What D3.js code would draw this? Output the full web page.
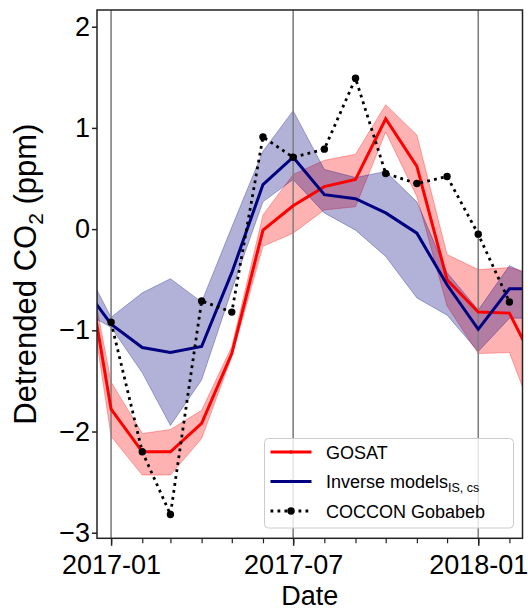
<!DOCTYPE html>
<html>
<head>
<meta charset="utf-8">
<script src="https://cdn.jsdelivr.net/npm/d3@7"></script>
<style>
body { margin: 0; background: #fff; }
text { font-family: "Liberation Sans", Arial, sans-serif; fill: #000; }
</style>
</head>
<body>
<div id="chart"></div>
<script>
"use strict";

// Monthly series (first day of month)
var months = ["2016-12","2017-01","2017-02","2017-03","2017-04","2017-05","2017-06","2017-07",
              "2017-08","2017-09","2017-10","2017-11","2017-12","2018-01","2018-02","2018-03"];

var gosat   = [0.05, -1.78, -2.20, -2.20, -1.92, -1.23, -0.01, 0.23, 0.42, 0.49, 1.09, 0.62, -0.50, -0.82, -0.83, -1.38];
var gosatHi = [0.10, -1.51, -2.02, -1.98, -1.79, -1.16,  0.14, 0.54, 0.68, 0.74, 1.23, 0.93, -0.25, -0.40, -0.38, -0.45];
var gosatLo = [0.00, -2.05, -2.43, -2.43, -2.07, -1.26, -0.17, -0.04, 0.19, 0.22, 0.96, 0.32, -0.76, -1.23, -1.22, -1.95];

var model   = [-0.52, -0.94, -1.17, -1.22, -1.16, -0.43, 0.44, 0.71, 0.34, 0.30, 0.16, -0.04, -0.55, -0.99, -0.59, -0.59];
var modelHi = [-0.28, -0.87, -0.63, -0.49, -0.72,  0.02, 0.77, 1.17, 0.59, 0.51, 0.57,  0.27, -0.43, -0.80, -0.36, -0.50];
var modelLo = [-0.80, -0.97, -1.42, -1.94, -1.49, -0.60, 0.27, 0.49, 0.16, -0.01, -0.27, -0.68, -0.85, -1.21, -0.88, -0.88];

var cocconMonths = ["2017-01","2017-02","2017-03","2017-04","2017-05","2017-06","2017-07",
                    "2017-08","2017-09","2017-10","2017-11","2017-12","2018-01","2018-02"];
var coccon = [-0.92, -2.20, -2.82, -0.71, -0.82, 0.91, 0.71, 0.79, 1.49, 0.55, 0.45, 0.52, -0.05, -0.72];

var yTicks = [-3, -2, -1, 0, 1, 2];
var xMajorTicks = ["2017-01", "2017-07", "2018-01"];
var xLimits = ["2016-12-18", "2018-02-14"];
var yLimits = [-3.055, 2.165];

var legendLabels = ["GOSAT", "Inverse models", "COCCON Gobabeb"];

// Dimensions
var larg = 528, haut = 610;
var gauche = 97, droite = 522.5, haut0 = 10, bas = 538.3;

var parseMonth = d3.utcParse("%Y-%m");
var parseDay = d3.utcParse("%Y-%m-%d");

var x = d3.scaleUtc()
	.domain(xLimits.map(parseDay))
	.range([gauche, droite]);
var y = d3.scaleLinear()
	.domain(yLimits)
	.range([bas, haut0]);

var serie = months.map(function(m, i){
	return {date: parseMonth(m), g: gosat[i], gHi: gosatHi[i], gLo: gosatLo[i],
	        m: model[i], mHi: modelHi[i], mLo: modelLo[i]};
});
var points = cocconMonths.map(function(m, i){
	return {date: parseMonth(m), v: coccon[i]};
});

var svg = d3.select("#chart")
	.append("svg")
	.attr("width", larg)
	.attr("height", haut)
	.attr("viewBox", "0 0 " + larg + " " + haut);

svg.append("clipPath")
	.attr("id", "zone")
	.append("rect")
	.attr("x", gauche)
	.attr("y", haut0)
	.attr("width", droite - gauche)
	.attr("height", bas - haut0);

var plot = svg.append("g").attr("clip-path", "url(#zone)");

// Bands
var bande = function(hi, lo){
	return d3.area()
		.x(function(d){ return x(d.date); })
		.y0(function(d){ return y(d[lo]); })
		.y1(function(d){ return y(d[hi]); });
};

plot.append("path")
	.attr("d", bande("gHi", "gLo")(serie))
	.attr("fill", "#ff0000")
	.attr("fill-opacity", 0.3)
	.attr("stroke", "#ff0000")
	.attr("stroke-opacity", 0.3)
	.attr("stroke-width", 1);

plot.append("path")
	.attr("d", bande("mHi", "mLo")(serie))
	.attr("fill", "#000080")
	.attr("fill-opacity", 0.3)
	.attr("stroke", "#000080")
	.attr("stroke-opacity", 0.3)
	.attr("stroke-width", 1);

// Vertical grid at major ticks
plot.selectAll(".grille")
	.data(xMajorTicks)
	.enter()
	.append("line")
	.attr("x1", function(d){ return x(parseMonth(d)); })
	.attr("x2", function(d){ return x(parseMonth(d)); })
	.attr("y1", haut0)
	.attr("y2", bas)
	.attr("stroke", "#808080")
	.attr("stroke-width", 1.6);

// Lines
var ligne = function(key){
	return d3.line()
		.x(function(d){ return x(d.date); })
		.y(function(d){ return y(d[key]); });
};

plot.append("path")
	.attr("d", ligne("g")(serie))
	.attr("fill", "none")
	.attr("stroke", "#ff0000")
	.attr("stroke-width", 3);

plot.append("path")
	.attr("d", ligne("m")(serie))
	.attr("fill", "none")
	.attr("stroke", "#000080")
	.attr("stroke-width", 3);

plot.append("path")
	.attr("d", ligne("v")(points))
	.attr("fill", "none")
	.attr("stroke", "#000")
	.attr("stroke-width", 2.8)
	.attr("stroke-dasharray", "2.8,4.2");

plot.selectAll(".point")
	.data(points)
	.enter()
	.append("circle")
	.attr("cx", function(d){ return x(d.date); })
	.attr("cy", function(d){ return y(d.v); })
	.attr("r", 3.7)
	.attr("fill", "#000");

// Axes
var axeY = svg.append("g")
	.attr("transform", "translate(" + gauche + ",0)")
	.call(d3.axisLeft(y).tickValues(yTicks).tickSize(5).tickPadding(2).tickFormat(d3.format("d")));

var axeXmin = svg.append("g")
	.attr("transform", "translate(0," + bas + ")")
	.call(d3.axisBottom(x).tickValues(d3.utcMonth.range(parseMonth("2017-01"), parseMonth("2018-03"))).tickSize(5).tickFormat(""));

var axeX = svg.append("g")
	.attr("transform", "translate(0," + bas + ")")
	.call(d3.axisBottom(x).tickValues(xMajorTicks.map(parseMonth)).tickSize(7.5).tickPadding(9).tickFormat(d3.utcFormat("%Y-%m")));

[axeY, axeXmin, axeX].forEach(function(a){
	a.select(".domain").remove();
	a.selectAll(".tick line").attr("stroke", "#222").attr("stroke-width", 1.5);
	a.selectAll(".tick text").attr("font-size", "27px").attr("font-family", null).attr("fill", "#000");
});
axeXmin.selectAll(".tick line").attr("stroke-width", 1.2);

// Frame
svg.append("rect")
	.attr("x", gauche)
	.attr("y", haut0)
	.attr("width", droite - gauche)
	.attr("height", bas - haut0)
	.attr("fill", "none")
	.attr("stroke", "#222")
	.attr("stroke-width", 1.5);

// Axis labels
svg.append("text")
	.attr("x", (gauche + droite) / 2)
	.attr("y", 605)
	.attr("text-anchor", "middle")
	.attr("font-size", "27px")
	.text("Date");

var ylab = svg.append("text")
	.attr("transform", "translate(36," + ((haut0 + bas) / 2) + ") rotate(-90)")
	.attr("text-anchor", "middle")
	.attr("font-size", "31px");
ylab.append("tspan").text("Detrended CO");
ylab.append("tspan").attr("dy", 7).attr("font-size", "21px").text("2");
ylab.append("tspan").attr("dy", -7).text(" (ppm)");

// Legend
var leg = svg.append("g");
leg.append("rect")
	.attr("x", 264.5)
	.attr("y", 438.5)
	.attr("width", 249)
	.attr("height", 89.5)
	.attr("rx", 4)
	.attr("fill", "#fff")
	.attr("fill-opacity", 0.8)
	.attr("stroke", "#cccccc")
	.attr("stroke-width", 1);

var rangs = [452, 481.5, 511];
var couleurs = ["#ff0000", "#000080", "#000"];

leg.selectAll(".h")
	.data(legendLabels)
	.enter()
	.append("line")
	.attr("x1", 270.5)
	.attr("x2", 311.5)
	.attr("y1", function(d, i){ return rangs[i]; })
	.attr("y2", function(d, i){ return rangs[i]; })
	.attr("stroke", function(d, i){ return couleurs[i]; })
	.attr("stroke-width", function(d, i){ return i === 2 ? 2.8 : 3; })
	.attr("stroke-dasharray", function(d, i){ return i === 2 ? "2.8,4.2" : null; });

leg.selectAll(".m")
	.data(legendLabels)
	.enter()
	.append("circle")
	.attr("cx", 291)
	.attr("cy", function(d, i){ return rangs[i]; })
	.attr("r", function(d, i){ return i === 2 ? 3.7 : 1.8; })
	.attr("fill", function(d, i){ return couleurs[i]; });

leg.selectAll(".t")
	.data(legendLabels)
	.enter()
	.append("text")
	.attr("x", 326)
	.attr("y", function(d, i){ return rangs[i] + 6.5; })
	.attr("font-size", "18px")
	.each(function(d, i){
		var t = d3.select(this);
		t.append("tspan").text(d);
		if (i === 1) {
			t.append("tspan").attr("dy", 4).attr("font-size", "12.5px").text("IS, cs");
		}
	});
</script>
</body>
</html>
